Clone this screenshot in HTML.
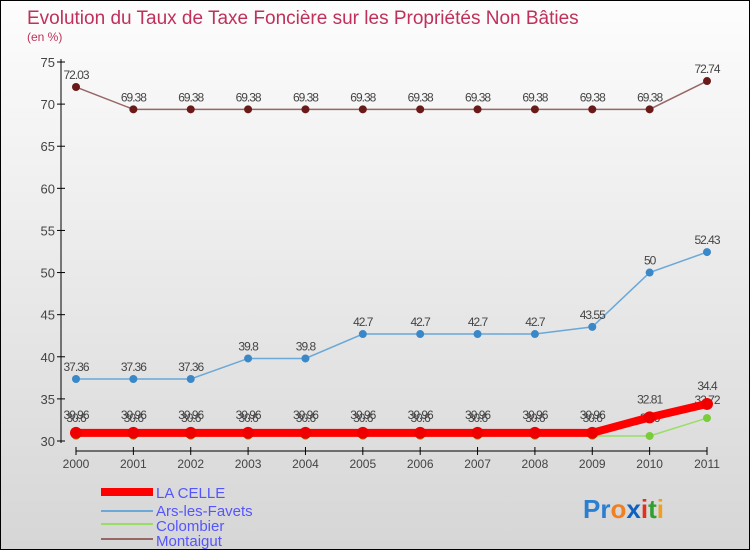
<!DOCTYPE html>
<html><head><meta charset="utf-8"><style>
body{margin:0;}
#wrap{width:750px;height:550px;position:relative;box-sizing:border-box;border:1px solid #000;background:linear-gradient(#fdfdfd,#d6d6d6);font-family:"Liberation Sans",sans-serif;overflow:hidden}
</style></head><body>
<div id="wrap">
<svg id="svg" width="750" height="550" style="position:absolute;left:0;top:0">
<text x="26" y="23" font-size="19" fill="#c0305a">Evolution du Taux de Taxe Foncière sur les Propriétés Non Bâties</text>
<text x="26" y="40" font-size="12" fill="#c0305a">(en %)</text>
<g id="axes"></g><g id="series"></g>
<g>
<rect x="100" y="487" width="52" height="8" fill="#f00"/>
<text x="155" y="497" font-size="15" fill="#5555ff">LA CELLE</text>
<rect x="100" y="509" width="52" height="2" fill="#6aa8d8"/>
<text x="155" y="515" font-size="15" fill="#5555ff">Ars-les-Favets</text>
<rect x="100" y="522" width="52" height="2" fill="#99dd66"/>
<text x="155" y="530" font-size="15" fill="#5555ff">Colombier</text>
<rect x="100" y="537" width="52" height="2" fill="#996666"/>
<text x="155" y="545" font-size="15" fill="#5555ff">Montaigut</text>
</g>
<text x="582" y="517" font-size="26" font-weight="bold"><tspan fill="#2a7fd0">Pr</tspan><tspan fill="#f08020">o</tspan><tspan fill="#1060c0">x</tspan><tspan fill="#e03020">i</tspan><tspan fill="#30a030">t</tspan><tspan fill="#f0a020">i</tspan></text>
</svg>
<script>
const years=[2000,2001,2002,2003,2004,2005,2006,2007,2008,2009,2010,2011];
const yTicks=[30,35,40,45,50,55,60,65,70,75];
const laCelle=[30.96,30.96,30.96,30.96,30.96,30.96,30.96,30.96,30.96,30.96,32.81,34.4];
const ars=[37.36,37.36,37.36,39.8,39.8,42.7,42.7,42.7,42.7,43.55,50,52.43];
const colombier=[30.6,30.6,30.6,30.6,30.6,30.6,30.6,30.6,30.6,30.6,30.6,32.72];
const montaigut=[72.03,69.38,69.38,69.38,69.38,69.38,69.38,69.38,69.38,69.38,69.38,72.74];
const NS="http://www.w3.org/2000/svg";
const xS=i=>75+i*(631/11);
const yS=v=>440-(v-30)*(379/45);
function mk(t,a,p){const e=document.createElementNS(NS,t);for(const k in a)e.setAttribute(k,a[k]);p.appendChild(e);return e;}
const ax=document.getElementById('axes');
let yl=mk('line',{x1:60,y1:58,x2:60,y2:442,stroke:'#000'},ax);


let xl=mk('line',{x1:75,y1:450,x2:706,y2:450,stroke:'#000'},ax);


yTicks.forEach(v=>{const y=yS(v);mk('line',{x1:56,y1:y,x2:64,y2:y,stroke:'#000'},ax);
const t=mk('text',{x:54,y:y+5,'font-size':13,fill:'#444','text-anchor':'end'},ax);t.textContent=v;

});
years.forEach((yr,i)=>{const x=xS(i);mk('line',{x1:x,y1:446,x2:x,y2:454,stroke:'#000'},ax);
const t=mk('text',{x:x,y:467,'font-size':12,fill:'#444','text-anchor':'middle'},ax);t.textContent=yr;

});
const sg=document.getElementById('series');
function series(name,vals,color,w,r,dot,lblDy){
 const g=mk('g',{},sg);
 
 
 mk('polyline',{points:vals.map((v,i)=>xS(i)+','+yS(v)).join(' '),fill:'none',stroke:color,'stroke-width':w},g);
 vals.forEach((v,i)=>{const c=mk('circle',{cx:xS(i),cy:yS(v),r:r,fill:dot},g);
 
 
 const t=mk('text',{x:xS(i),y:yS(v)+lblDy,'font-size':12,fill:'#444','text-anchor':'middle','letter-spacing':'-1'},g);
 t.textContent=String(v).replace(/^(\d+\.\d)0$/,'$1');
 
 });
}
series('montaigut',montaigut,'#996666',1.5,4,'#6b1a1a',-8);
series('ars',ars,'#6aa8d8',1.5,4,'#3a88c8',-8);
series('colombier',colombier,'#99dd66',1.5,4,'#7acc3a',-14);
series('la-celle',laCelle,'#f00',8,6,'#e00',-14);
</script>
</div></body></html>
